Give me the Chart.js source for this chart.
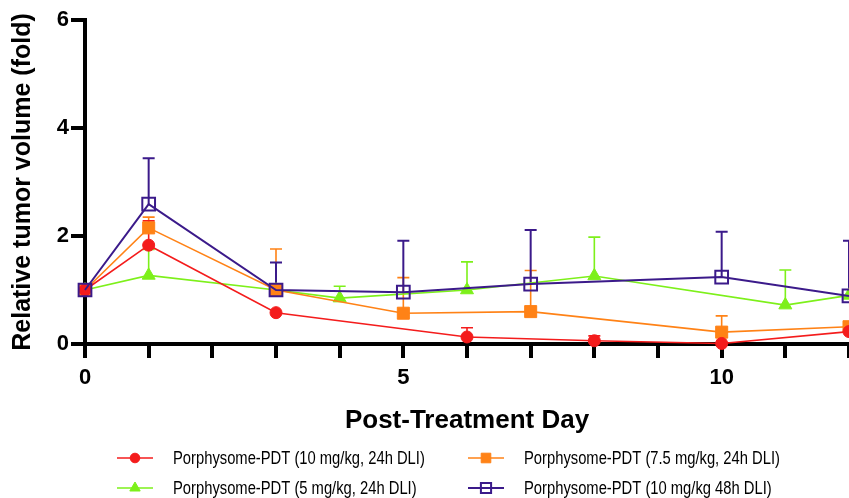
<!DOCTYPE html>
<html>
<head>
<meta charset="utf-8">
<script src="https://cdn.jsdelivr.net/npm/chart.js@4/dist/chart.umd.min.js"></script>
<style>
  html, body { margin: 0; padding: 0; background: #fff; }
  #wrap { width: 849px; height: 498px; position: relative; }
</style>
</head>
<body>
<div id="wrap"><canvas id="tumorChart"></canvas></div>
<script>
// Series data (x = day, y = mean fold, top = upper error bar, null = no visible bar)
const seriesLabels = [
    'Porphysome-PDT (10 mg/kg, 24h DLI)',
    'Porphysome-PDT (7.5 mg/kg, 24h DLI)',
    'Porphysome-PDT (5 mg/kg, 24h DLI)',
    'Porphysome-PDT (10 mg/kg 48h DLI)'
];

const redDays = [0, 1, 3, 6, 8, 10, 12];
const redMean = [1.0, 1.83, 0.58, 0.13, 0.06, 0.01, 0.23];
const redTop = [null, 2.28, null, 0.30, 0.15, null, null];

const orangeDays = [0, 1, 3, 5, 7, 10, 12];
const orangeMean = [1.0, 2.15, 1.0, 0.57, 0.6, 0.22, 0.32];
const orangeTop = [null, 2.35, 1.76, 1.23, 1.36, 0.52, null];

const greenDays = [0, 1, 3, 4, 6, 8, 11, 12];
const greenMean = [1.0, 1.27, 1.0, 0.85, 1.0, 1.26, 0.72, 0.9];
const greenTop = [null, 1.75, null, 1.07, 1.52, 1.98, 1.37, null];

const purpleDays = [0, 1, 3, 5, 7, 10, 12];
const purpleMean = [1.0, 2.59, 1.0, 0.96, 1.11, 1.24, 0.89];
const purpleTop = [null, 3.44, 1.51, 1.91, 2.11, 2.08, 1.91];

const yTicks = [0, 2, 4, 6];
const xLabelEvery = 5;

const toPoints = (days, vals) => days.map((d, i) => ({ x: d, y: vals[i] }));

const mainFont = "'Liberation Sans', Arial, Helvetica, sans-serif";

// Upward error bars with caps, drawn under the markers
const errorBars = {
    id: 'errorBars',
    beforeDatasetsDraw(chart) {
        const ctx = chart.ctx;
        const yScale = chart.scales.y;
        const metas = chart.getSortedVisibleDatasetMetas().slice().reverse();
        metas.forEach(meta => {
            const ds = chart.data.datasets[meta.index];
            if (!ds.errTop) return;
            ctx.save();
            ctx.strokeStyle = ds.borderColor;
            ctx.lineWidth = ds.borderWidth;
            meta.data.forEach((pt, i) => {
                const top = ds.errTop[i];
                if (top == null) return;
                const yTop = yScale.getPixelForValue(top);
                ctx.beginPath();
                ctx.moveTo(pt.x, pt.y);
                ctx.lineTo(pt.x, yTop);
                ctx.moveTo(pt.x - 6, yTop);
                ctx.lineTo(pt.x + 6, yTop);
                ctx.stroke();
            });
            ctx.restore();
        });
    }
};

// Two-column legend under the axis title (text squeezed like the narrow face in the original)
const bottomLegend = {
    id: 'bottomLegend',
    afterDraw(chart) {
        const ctx = chart.ctx;
        const cols = [117, 468];
        const rows = [458, 488];
        const slots = [[0, 0], [1, 0], [0, 1], [1, 1]];
        seriesLabels.forEach((label, i) => {
            const ds = chart.data.datasets[i];
            const x0 = cols[slots[i][0]];
            const y0 = rows[slots[i][1]];
            ctx.save();
            ctx.strokeStyle = ds.borderColor;
            ctx.lineWidth = ds.borderWidth;
            ctx.beginPath();
            ctx.moveTo(x0, y0);
            ctx.lineTo(x0 + 36, y0);
            ctx.stroke();
            ctx.fillStyle = ds.pointBackgroundColor;
            ctx.strokeStyle = ds.borderColor;
            ctx.lineWidth = ds.pointBorderWidth;
            Chart.helpers.drawPoint(ctx, {
                pointStyle: ds.pointStyle,
                radius: ds.pointRadius * 0.8,
                borderWidth: ds.pointBorderWidth,
                rotation: 0
            }, x0 + 18, y0);
            ctx.fillStyle = '#000';
            ctx.font = '18px ' + mainFont;
            ctx.textBaseline = 'middle';
            ctx.translate(x0 + 56, y0 + 1);
            ctx.scale(0.82, 1);
            ctx.fillText(label, 0, 0);
            ctx.restore();
        });
    }
};

function makeSet(i, days, mean, top, color, style, radius, fill, width, order) {
    return {
        label: seriesLabels[i],
        data: toPoints(days, mean),
        errTop: top,
        borderColor: color,
        backgroundColor: color,
        borderWidth: width,
        pointStyle: style,
        pointRadius: radius,
        pointHoverRadius: radius,
        pointBackgroundColor: fill,
        pointBorderColor: color,
        pointBorderWidth: style === 'rect' && fill !== color ? 2 : 1,
        tension: 0,
        clip: false,
        order: order
    };
}

const ctx = document.getElementById('tumorChart').getContext('2d');
new Chart(ctx, {
    type: 'line',
    data: {
        datasets: [
            makeSet(0, redDays, redMean, redTop, '#f41c1c', 'circle', 6, '#f41c1c', 1.6, 1),
            makeSet(1, orangeDays, orangeMean, orangeTop, '#ff8216', 'rect', 8.5, '#ff8216', 1.6, 3),
            makeSet(2, greenDays, greenMean, greenTop, '#7df01a', 'triangle', 7.5, '#7df01a', 1.6, 4),
            makeSet(3, purpleDays, purpleMean, purpleTop, '#3b1a8a', 'rect', 9, 'rgba(0,0,0,0)', 2, 0)
        ]
    },
    options: {
        responsive: true,
        maintainAspectRatio: false,
        animation: false,
        events: [],
        // the plot runs right up to the picture's right edge (day 12 is cut off)
        layout: { autoPadding: false, padding: { top: 20, right: 0, bottom: 54, left: 0 } },
        plugins: {
            legend: { display: false },
            tooltip: { enabled: false }
        },
        scales: {
            x: {
                type: 'linear',
                min: 0,
                max: 12,
                border: { color: '#000', width: 4 },
                grid: { drawOnChartArea: false, color: '#000', lineWidth: 4, tickLength: 14 },
                ticks: {
                    stepSize: 1,
                    autoSkip: false,
                    maxRotation: 0,
                    padding: 7,
                    color: '#000',
                    font: { family: mainFont, size: 22, weight: 'bold' },
                    callback: v => (v % xLabelEvery === 0 ? String(v) : '')
                },
                title: {
                    display: true,
                    text: 'Post-Treatment Day',
                    color: '#000',
                    font: { family: mainFont, size: 26, weight: 'bold' },
                    padding: { top: 10, bottom: 8 }
                },
                afterFit: s => { s.height = 100; s.paddingRight = 0; }
            },
            y: {
                min: 0,
                max: 6,
                border: { color: '#000', width: 4 },
                grid: { drawOnChartArea: false, color: '#000', lineWidth: 4, tickLength: 14 },
                afterBuildTicks: s => { s.ticks = yTicks.map(v => ({ value: v })); },
                ticks: {
                    padding: 2,
                    color: '#000',
                    font: { family: mainFont, size: 22, weight: 'bold' }
                },
                title: {
                    display: true,
                    text: 'Relative tumor volume (fold)',
                    color: '#000',
                    font: { family: mainFont, size: 25, weight: 'bold' },
                    padding: { top: 8, bottom: 6 }
                },
                afterFit: s => { s.width = 85; }
            }
        }
    },
    plugins: [errorBars, bottomLegend]
});
</script>
</body>
</html>
